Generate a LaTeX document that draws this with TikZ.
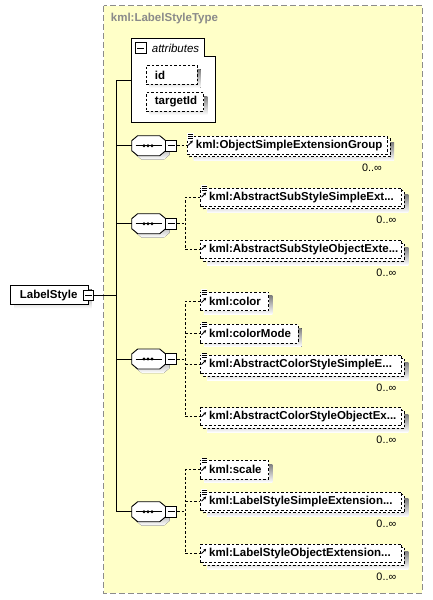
\documentclass[tikz,border=0pt]{standalone}
\usepackage{fontspec}
\setmainfont{Liberation Sans}
\usetikzlibrary{arrows.meta}
\definecolor{shade}{HTML}{C0C0C0}
\definecolor{cyellow}{HTML}{FFFFC8}
\definecolor{cborder}{HTML}{8C8C8C}
\definecolor{ctitle}{HTML}{8A8A8A}
\newcommand\elfont{\bfseries\fontsize{11.5}{13}\selectfont}
\newcommand\multfont{\fontsize{10.8}{12}\selectfont}
\tikzset{
  ln/.style={line width=0.9pt, draw=black},
  dl/.style={line width=0.9pt, draw=black, dash pattern=on 2.5pt off 2pt},
  elbox/.style={dl, fill=white, inner sep=0pt, anchor=north west},
  eltext/.style={font=\elfont, anchor=west, inner sep=0pt},
  mult/.style={font=\multfont, anchor=east, inner sep=0pt},
  minusbox/.style={ln, fill=white, minimum size=11pt, inner sep=0pt},
}
% icons
\newcommand\iconlines[2]{%
  \fill[white] (#1+0.5,#2-2.5) rectangle (#1+7,#2+4);
  \foreach \k in {0,2,4} {\draw[line width=0.8pt] (#1+1.5,#2-1.5+\k) -- (#1+6.5,#2-1.5+\k);}
}
\newcommand\iconarrow[2]{%
  \draw[line width=0.9pt, -{Stealth[length=3pt,width=3pt]}] (#1+1.5,#2+2.5) -- (#1+6.2,#2-2.2);
}
% single element: name, x, y, w, text
\newcommand\elsingle[5]{%
  \fill[shade] (#2+4,#3+4) rectangle ++(#4,18.5);
  \node[elbox, minimum width=#4pt, minimum height=18.5pt] (#1) at (#2,#3) {};
  \node[eltext] (#1-t) at ([xshift=9pt]#1.west) {#5};
}
% multiple element: name, x, y, w, text
\newcommand\elmulti[5]{%
  \fill[shade] (#2+7,#3+7) rectangle ++(#4-3,18);
  \draw[dl, fill=white] (#2+3,#3+3) rectangle ++(#4-3,18);
  \node[elbox, minimum width={(#4-3)*1pt}, minimum height=18pt] (#1) at (#2,#3) {};
  \node[eltext] (#1-t) at ([xshift=9pt]#1.west) {#5};
  \node[mult] (#1-m) at (#2+#4-8,#3+32.5) {0..∞};
}
% sequence compositor: name, cy
\newcommand\seqnode[2]{%
  \fill[shade, shift={(4,4)}] (137.7,#2-10) -- (159.7,#2-10) -- (165.7,#2-5) -- (165.7,#2+5) -- (159.7,#2+10) -- (137.7,#2+10) -- (131.7,#2+5) -- (131.7,#2-5) -- cycle;
  \draw[ln, fill=white] (137.7,#2-10) -- (159.7,#2-10) -- (165.7,#2-5) -- (165.7,#2+5) -- (159.7,#2+10) -- (137.7,#2+10) -- (131.7,#2+5) -- (131.7,#2-5) -- cycle;
  \node[minimum width=34pt, minimum height=20pt, inner sep=0pt] (#1) at (148.7,#2) {};
  \draw[ln] (135.5,#2) -- (161.5,#2);
  \foreach \dx in {144,148,152} {\fill (\dx,#2) circle (1.6pt);}
  \node[minusbox] (#1-m) at (171.2,#2) {};
  \draw[ln] ([xshift=2.5pt]#1-m.west) -- ([xshift=-2.5pt]#1-m.east);
}
\begin{document}
\begin{tikzpicture}[x=1pt, y=-1pt]
\useasboundingbox (0,0) rectangle (433,600);
\fill[white] (0,0) rectangle (433,600);

% complex type container
\draw[fill=cyellow, draw=cborder, line width=0.9pt, dash pattern=on 6pt off 3pt] (103.5,5.5) rectangle (422,593);
\node[anchor=west, inner sep=0pt, text=ctitle, font=\elfont] (title) at (110.7,19) {kml:LabelStyleType};

% attributes group
\node[minimum width=83.6pt, minimum height=84pt, anchor=north west, inner sep=0pt] (attr) at (131.7,38.3) {};
\draw[ln, fill=white] (131.7,38.3) -- (204,38.3) -- (204,56.7) -- (215.3,56.7) -- (215.3,122.3) -- (131.7,122.3) -- cycle;
\node[minusbox] (attr-m) at (140.7,48.3) {};
\draw[ln] ([xshift=2.5pt]attr-m.west) -- ([xshift=-2.5pt]attr-m.east);
\node[anchor=west, inner sep=0pt, font=\itshape\fontsize{11.5}{13}\selectfont] (attr-t) at (151.7,48.3) {attributes};
\elsingle{aid}{145.7}{65.3}{51}{id}
\elsingle{atid}{145.7}{92.3}{57.6}{targetId}

% root element
\fill[shade] (14.3,289.3) rectangle ++(77.4,19);
\node[ln, fill=white, minimum width=77.4pt, minimum height=19pt, anchor=north west, inner sep=0pt] (ls) at (10.3,285.3) {};
\node[eltext] (ls-t) at ([xshift=9.4pt]ls.west) {LabelStyle};
\node[minusbox, minimum size=10.4pt] (ls-m) at (88.5,295.5) {};
\draw[ln] ([xshift=2.3pt]ls-m.west) -- ([xshift=-2.3pt]ls-m.east);

% sequences
\seqnode{seqa}{145.7}
\seqnode{seqb}{223.7}
\seqnode{seqc}{359}
\seqnode{seqd}{511.7}

% elements
\elmulti{ea}{186.7}{135.7}{203.3}{kml:ObjectSimpleExtensionGroup}
\elmulti{eb}{200}{187.7}{204.4}{kml:AbstractSubStyleSimpleExt...}
\elmulti{ec}{200}{240}{204.4}{kml:AbstractSubStyleObjectExte...}
\elsingle{ed}{200}{291.7}{68.3}{kml:color}
\elsingle{ee}{200}{324}{97.7}{kml:colorMode}
\elmulti{ef}{200}{355}{204.4}{kml:AbstractColorStyleSimpleE...}
\elmulti{eg}{200}{407.3}{204.4}{kml:AbstractColorStyleObjectEx...}
\elsingle{eh}{200}{460}{68.3}{kml:scale}
\elmulti{ei}{200}{491.7}{204.4}{kml:LabelStyleSimpleExtension...}
\elmulti{ej}{200}{544}{204.4}{kml:LabelStyleObjectExtension...}

% main connectors
\coordinate (vtop) at (116.3,80);
\draw[ln] (vtop) -- (vtop -| attr.west);
\draw[ln] (vtop) -- (vtop |- seqd.west) -- (seqd.west);
\draw[ln] (vtop |- seqa.west) -- (seqa.west);
\draw[ln] (vtop |- seqb.west) -- (seqb.west);
\draw[ln] (vtop |- seqc.west) -- (seqc.west);
\draw[ln] (ls-m.east) -- (vtop |- ls-m.east);

% sequence a
\draw[dl] (seqa-m.east) -- (ea.west |- seqa-m.east);
% sequence b
\coordinate (cb) at (185,223.7);
\draw[dl] (seqb-m.east) -- (cb);
\draw[dl] (eb.west) -| (cb |- ec.west) -- (ec.west);
% sequence c
\coordinate (cc) at (185,359);
\draw[dl] (seqc-m.east) -- (cc);
\draw[dl] (ed.west) -| (cc |- eg.west) -- (eg.west);
\draw[dl] (cc |- ee.west) -- (ee.west);
\draw[dl] (cc |- ef.west) -- (ef.west);
% sequence d
\coordinate (cd) at (185,511.7);
\draw[dl] (seqd-m.east) -- (cd);
\draw[dl] (eh.west) -| (cd |- ej.west) -- (ej.west);
\draw[dl] (cd |- ei.west) -- (ei.west);

% icons over connectors
\iconlines{186.7}{135.7}\iconarrow{186.7}{142.7}
\iconlines{200}{187.7}\iconarrow{200}{194.7}
\iconarrow{200}{247}
\iconlines{200}{291.7}\iconarrow{200}{300}
\iconlines{200}{324}\iconarrow{200}{332.3}
\iconlines{200}{355}\iconarrow{200}{362}
\iconarrow{200}{414.3}
\iconlines{200}{460}\iconarrow{200}{468.3}
\iconlines{200}{491.7}\iconarrow{200}{498.7}
\iconarrow{200}{551}
\end{tikzpicture}
\end{document}
